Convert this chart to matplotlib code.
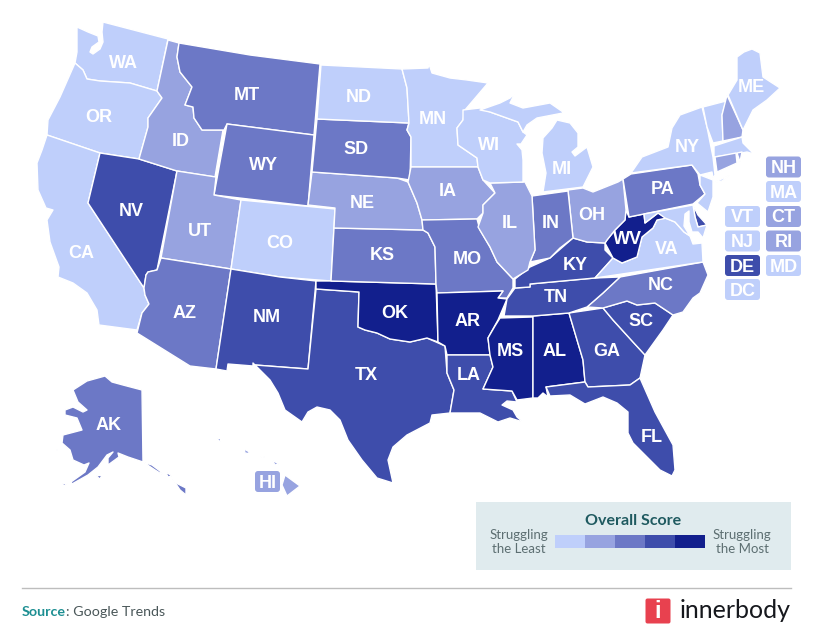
import matplotlib
matplotlib.use("Agg")
import matplotlib.pyplot as plt
from matplotlib.patches import Polygon, Rectangle, FancyBboxPatch

# ---- values ----
TIER_1 = ["WA", "OR", "CA", "CO", "ND", "MN", "WI", "MI", "NY", "VT", "ME", "MA", "NJ", "MD", "VA", "DC"]
TIER_2 = ["ID", "UT", "NE", "IA", "IL", "OH", "NH", "CT", "RI", "HI"]
TIER_3 = ["MT", "WY", "SD", "KS", "MO", "IN", "AZ", "PA", "NC", "AK"]
TIER_4 = ["NV", "NM", "TX", "LA", "GA", "SC", "FL", "TN", "KY", "DE"]
TIER_5 = ["OK", "AR", "MS", "AL", "WV"]
TIERS = [TIER_1, TIER_2, TIER_3, TIER_4, TIER_5]
TIER_COLORS = ["#bfcffb", "#97a3e0", "#6c78c6", "#3e4dab", "#121f8d"]

# Hand-traced state outlines (map geography, in image units)
OUTLINES = {
 "WA": [[(103,22),(168,39),(157,91),(130,83),(100,81),(87,79),(83,70),(75,63),(77,52),(77,27),(88,32),(98,36),(99,42),(92,47),(90,52),(93,54),(100,49),(103,42),(102,32)]],
 "OR": [[(75,63),(83,70),(87,79),(100,81),(130,83),(157,91),(162,98),(148,118),(148,127),(139,159),(100,153),(47,135),(48,120),(60,97)]],
 "CA": [[(47,135),(100,153),(88,203),(144,288),(145,295),(149,304),(142,313),(137,330),(99,325),(97,310),(87,293),(73,283),(58,277),(59,267),(50,242),(47,220),(53,210),(46,208),(38,190),(37,163),(42,150)]],
 "NV": [[(100,153),(139,159),(177,171),(157,270),(148,272),(146,275),(144,288),(88,203)]],
 "ID": [[(168,40),(179,43),(177,57),(180,72),(192,87),(185,105),(193,107),(194,118),(202,130),(223,130),(215,177),(177,171),(139,159),(148,127),(148,118),(162,98),(157,91)]],
 "MT": [[(179,43),(250,55),(320,64),(314,135),(227,124),(224,130),(202,130),(194,118),(193,107),(185,105),(192,87),(180,72),(177,57)]],
 "WY": [[(227,124),(314,135),(308,206),(214,195)]],
 "UT": [[(177,171),(216,177),(214,195),(241,200),(231,269),(161,258)]],
 "CO": [[(241,200),(335,209),(331,281),(280,277),(231,269)]],
 "AZ": [[(161,258),(231,269),(216,369),(190,366),(137,333),(142,313),(149,304),(145,295),(144,288),(146,275),(148,272),(157,270)]],
 "NM": [[(231,269),(280,277),(316,281),(308,369),(255,365),(253,363),(253,366),(228,364),(227,371),(216,369)]],
 "TX": [[(316,289),(359,292),(358,327),(365,330),(377,333),(390,339),(410,342),(427,338),(445,346),(447,373),(454,390),(450,413),(432,415),(430,423),(407,435),(393,447),(388,460),(393,483),(377,478),(362,460),(348,440),(340,420),(330,410),(317,407),(308,412),(302,422),(285,410),(278,393),(270,380),(255,365),(308,369)]],
 "OK": [[(316,281),(331,281),(436,284),(438,342),(427,338),(410,342),(390,339),(377,333),(365,330),(358,327),(359,292),(316,289)]],
 "KS": [[(334,228),(423,230),(428,233),(435,247),(436,284),(331,281)]],
 "NE": [[(312,172),(383,177),(397,178),(408,182),(417,203),(422,220),(423,230),(334,228),(335,208),(308,205)]],
 "SD": [[(317,119),(409,123),(407,130),(411,137),(410,180),(397,178),(383,177),(312,172)]],
 "ND": [[(321,65),(402,69),(407,88),(409,123),(317,119)]],
 "MN": [[(402,69),(428,68),(429,64),(432,73),(450,78),(467,80),(488,83),(465,110),(463,120),(457,128),(458,145),(477,158),(478,167),(411,167),(411,137),(407,130),(409,123),(407,88)]],
 "IA": [[(411,167),(478,167),(483,180),(495,193),(483,205),(483,213),(477,219),(422,220),(417,203),(408,182)]],
 "MO": [[(422,220),(477,219),(480,230),(490,247),(497,262),(513,279),(513,288),(507,298),(498,298),(503,291),(437,293),(436,284),(435,247),(428,233),(423,230)]],
 "AR": [[(437,293),(503,291),(498,298),(507,299),(498,320),(488,338),(490,355),(447,355),(445,346),(438,342)]],
 "LA": [[(447,355),(490,355),(493,367),(483,389),(512,391),(517,402),(507,401),(502,405),(513,410),(517,417),(523,422),(510,418),(498,422),(480,413),(453,413),(450,413),(454,390),(447,373)]],
 "MS": [[(500,318),(533,317),(533,398),(517,400),(512,391),(483,389),(493,367),(490,355),(488,338),(495,326)]],
 "AL": [[(533,316),(569,313),(583,360),(585,382),(546,387),(548,397),(543,393),(538,398),(533,398)]],
 "GA": [[(569,313),(603,308),(613,320),(633,342),(645,355),(640,378),(630,385),(588,387),(585,382),(583,360)]],
 "FL": [[(546,387),(585,382),(588,387),(630,385),(640,378),(655,412),(673,445),(675,470),(672,476),(660,470),(648,458),(633,443),(628,433),(628,412),(617,403),(603,397),(585,404),(570,395),(550,396)]],
 "SC": [[(603,308),(627,301),(637,305),(655,303),(673,315),(663,330),(645,355),(633,342),(613,320)]],
 "NC": [[(587,307),(603,293),(620,277),(703,262),(708,275),(700,293),(693,298),(683,312),(673,315),(655,303),(637,305),(627,301),(603,308)]],
 "TN": [[(515,288),(530,287),(530,284),(595,278),(620,277),(603,293),(587,307),(569,313),(533,316),(504,316),(507,299)]],
 "KY": [[(515,288),(515,279),(530,267),(550,258),(573,238),(587,242),(605,243),(605,250),(613,258),(595,278),(530,284),(530,287)]],
 "VA": [[(595,278),(613,258),(622,263),(637,257),(642,237),(653,228),(657,220),(665,218),(675,222),(684,232),(690,236),(693,244),(702,243),(703,262)]],
 "WV": [[(626,210),(629,217),(644,214),(645,223),(658,213),(667,218),(657,220),(653,228),(642,237),(637,257),(622,263),(613,258),(605,243),(607,240),(615,230),(625,220)]],
 "OH": [[(568,190),(583,188),(593,192),(618,182),(623,179),(626,210),(625,220),(615,230),(607,240),(605,243),(587,242),(573,238)]],
 "IN": [[(532,196),(568,191),(573,238),(560,248),(550,258),(530,262),(535,250)]],
 "IL": [[(490,183),(525,182),(532,196),(535,250),(530,262),(528,270),(513,279),(497,262),(490,247),(478,227),(483,213),(483,205),(495,193)]],
 "WI": [[(463,110),(480,108),(490,112),(518,122),(523,132),(527,135),(521,144),(517,144),(522,150),(523,160),(523,182),(490,183),(483,180),(478,167),(477,158),(458,145),(457,128),(463,120)]],
 "MI": [[(543,192),(583,187),(593,167),(587,147),(575,156),(572,152),(578,147),(578,133),(570,123),(557,120),(552,128),(543,138),(542,153),(546,173)],
        [(480,110),(500,103),(510,98),(515,93),(510,103),(523,108),(550,103),(563,112),(573,112),(563,113),(537,118),(527,125),(523,132),(518,122),(490,112)]],
 "PA": [[(623,179),(631,174),(692,165),(698,174),(700,185),(705,194),(693,204),(629,217)]],
 "NY": [[(631,173),(642,157),(668,147),(672,128),(680,115),(702,107),(707,127),(713,157),(715,175),(713,178),(712,172),(700,175),(692,165)],
        [(713,183),(730,175),(722,181)]],
 "NJ": [[(700,175),(713,180),(713,197),(708,212),(697,203),(705,194),(700,185)]],
 "DE": [[(693,205),(698,215),(707,225),(698,227),(695,217)]],
 "MD": [[(644,214),(693,205),(695,217),(698,227),(707,225),(703,238),(698,232),(692,232),(689,222),(689,211),(685,214),(684,226),(690,236),(684,232),(675,222),(665,218),(658,213),(645,223)]],
 "VT": [[(703,107),(726,101),(722,115),(723,141),(713,143),(707,127)]],
 "NH": [[(727,95),(743,130),(742,137),(723,141),(722,115)]],
 "ME": [[(728,95),(737,80),(737,57),(744,52),(752,49),(760,53),(763,77),(780,88),(767,100),(753,110),(743,130)]],
 "MA": [[(714,146),(742,137),(743,143),(754,154),(747,152),(742,153),(714,157)]],
 "CT": [[(715,157),(736,153),(737,163),(717,172)]],
 "RI": [[(737,153),(742,152),(740,162)]],
 "AK": [[(105,376),(112,382),(123,385),(142,390),(143,462),(128,457),(118,453),(119,457),(108,465),(108,458),(113,452),(107,455),(98,467),(88,475),(72,484),(71,482),(85,472),(89,463),(84,465),(73,460),(70,450),(62,443),(63,435),(82,430),(77,418),(65,415),(65,410),(73,407),(83,412),(87,410),(78,402),(73,390),(87,381)],
        [(143,462),(152,465),(160,471),(163,475),(155,470)],
        [(163,466),(166,472),(172,476),(168,477)],
        [(172,478),(178,484),(186,488),(186,495),(180,490)],
        [(96,476),(102,475),(100,479)],[(56,449),(58,449),(57,451)],[(62,484),(68,483),(64,486)]],
 "HI": [[(285,475),(300,486),(287,496),(282,485)],[(217,439),(221,438),(220,442)],[(244,449),(248,451),(250,454),(245,453)],[(272,460),(279,464),(275,465)],[(260,456),(265,457),(263,458)]],
}

LABEL_AT = {
 "WA": (123,63.5), "OR": (99,117.5), "CA": (81,253), "NV": (131,211), "ID": (181,141), "MT": (247,96),
 "WY": (263,166), "UT": (200,232), "CO": (280,244), "AZ": (185,314), "NM": (267,318), "TX": (366,376),
 "OK": (395,314), "KS": (382,256), "NE": (362,203), "SD": (356,149), "ND": (359,97), "MN": (433,120),
 "IA": (448,191), "MO": (467,259), "AR": (468,321), "LA": (469,376), "MS": (510,351), "AL": (555,351),
 "GA": (607,351), "FL": (652,437), "SC": (641,322), "NC": (661,286), "TN": (556,298), "KY": (575,265),
 "VA": (667,250), "WV": (627,240), "OH": (592,215), "IN": (551,224), "IL": (510,224), "WI": (489,145),
 "MI": (562,170), "PA": (663,190), "NY": (687,148), "ME": (751,87), "AK": (109,425),
}
BOX_AT = {"NH": (783.5,167), "MA": (783.5,191.5), "CT": (783.5,216.5), "RI": (783.5,241), "MD": (783.5,265.5),
          "VT": (742.5,216.5), "NJ": (742.5,241), "DE": (742.5,265.5), "DC": (742.5,289.5), "HI": (267.5,481.5)}
BOX_HALF_WIDTH = {"HI": 10.5}

LEGEND_TITLE = "Overall Score"
LEGEND_LOW = "Struggling\nthe Least"
LEGEND_HIGH = "Struggling\nthe Most"
SOURCE_HEAD = "Source"
SOURCE_TAIL = ": Google Trends"
BRAND = "innerbody"

fig = plt.figure(figsize=(8.26, 6.40), dpi=100)
ax = fig.add_axes([0, 0, 1, 1])
ax.set_xlim(0, 826)
ax.set_ylim(640, 0)
ax.axis("off")

state_color = {s: TIER_COLORS[i] for i, group in enumerate(TIERS) for s in group}

for state, parts in OUTLINES.items():
    for part in parts:
        ax.add_patch(Polygon(part, closed=True, facecolor=state_color[state], edgecolor="white",
                             linewidth=1.0, joinstyle="round", zorder=2))

label_font = dict(family="Liberation Sans", fontweight="bold", color="white", ha="center", va="center", zorder=4)
for state, (x, y) in LABEL_AT.items():
    ax.text(x, y, state, fontsize=13, **label_font)
for state, (x, y) in BOX_AT.items():
    hw = BOX_HALF_WIDTH.get(state, 15.5)
    ax.add_patch(FancyBboxPatch((x-hw, y-8.5), 2*hw, 17, boxstyle="round,pad=2,rounding_size=3",
                                facecolor=state_color[state], edgecolor="none", zorder=3))
    ax.text(x, y+1.5, state, fontsize=13, **label_font)

# legend
ax.add_patch(Rectangle((476, 502), 315, 68, facecolor="#e0ebee", edgecolor="none", zorder=1))
seg = 30
for i, c in enumerate(TIER_COLORS):
    ax.add_patch(Rectangle((555 + i*seg, 535), seg, 12.5, facecolor=c, edgecolor="none", zorder=2))
ax.text(633.5, 521, LEGEND_TITLE, family="Lato", fontweight="bold", fontsize=11.5, color="#1f5a60", ha="center", va="center")
ax.text(518.5, 542, LEGEND_LOW, family="Lato", fontsize=9.5, color="#5d6f72", ha="center", va="center", linespacing=1.25)
ax.text(742, 542, LEGEND_HIGH, family="Lato", fontsize=9.5, color="#5d6f72", ha="center", va="center", linespacing=1.25)

# footer
ax.plot([22, 791], [587.5, 587.5], color="#bdbdbd", lw=1)
t = ax.text(22, 612, SOURCE_HEAD, family="Lato", fontweight="bold", fontsize=10.3, color="#1d8f92", ha="left", va="center")
fig.canvas.draw()
bb = t.get_window_extent()
ax.text(22 + bb.width, 612, SOURCE_TAIL, family="Lato", fontsize=10.3, color="#4a5759", ha="left", va="center")

ax.add_patch(FancyBboxPatch((646.5, 599.5), 23, 23, boxstyle="round,pad=1,rounding_size=2", facecolor="#e8414f", edgecolor="none"))
ax.text(658, 611, "i", family="Liberation Sans", fontweight="bold", fontsize=17, color="white", ha="center", va="center")
ax.text(680, 611, BRAND, family="Lato", fontsize=18, color="#16181d", ha="left", va="center")

fig.savefig("out.png", dpi=100, facecolor="white")
